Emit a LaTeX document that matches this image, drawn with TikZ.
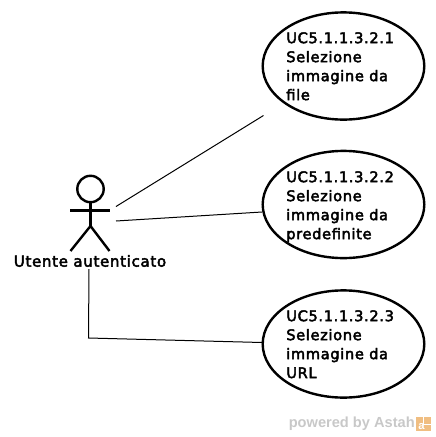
\documentclass[tikz,border=0pt]{standalone}
\usepackage{fontspec}
\setmainfont[FakeBold=3, LetterSpace=4.4]{DejaVu Sans}
\newfontfamily\astahfont{Liberation Sans}[Scale=1]
\usetikzlibrary{shapes.geometric}
\definecolor{astahgrey}{RGB}{200,200,200}
\definecolor{astahorange}{RGB}{240,190,130}
\tikzset{
	usecase/.style={draw, ellipse, line width=0.6mm, minimum width=40.4mm, minimum height=26.8mm, inner sep=0pt},
	uctext/.style={anchor=north west, align=left, inner sep=0pt, font=\fontsize{10.4pt}{13.5pt}\selectfont},
	actorline/.style={line width=0.6mm},
	assoc/.style={line width=0.25mm}
}
\begin{document}
\begin{tikzpicture}[x=0.25mm, y=-0.25mm]
	\useasboundingbox (0, 0) rectangle (436, 437);
	
	%%%%% USE CASES %%%%%
	\node[usecase] (uc1) at (343.5, 66) {};
	\node[uctext] (uc1text) at (286, 32) {UC5.1.1.3.2.1\\Selezione\\immagine da\\file};
	
	\node[usecase] (uc2) at (343.5, 204.5) {};
	\node[uctext] (uc2text) at (286, 171) {UC5.1.1.3.2.2\\Selezione\\immagine da\\predefinite};
	
	\node[usecase] (uc3) at (343.5, 344) {};
	\node[uctext] (uc3text) at (286, 310) {UC5.1.1.3.2.3\\Selezione\\immagine da\\URL};
	
	%%%%% ACTOR %%%%%
	\node[circle, draw, line width=0.6mm, minimum size=6.6mm, inner sep=0pt] (head) at (90.5, 189) {};
	\coordinate (hip) at (90.5, 226);
	\coordinate (armL) at (70, 210.5);
	\coordinate (armR) at (110, 210.5);
	\coordinate (footL) at (70.5, 251);
	\coordinate (footR) at (109.5, 251);
	\draw[actorline] (head.south) -- (hip);
	\draw[actorline] (armL) -- (armR);
	\draw[actorline] (footL) -- (hip) -- (footR);
	\node[font=\fontsize{10.7pt}{12pt}\selectfont, inner sep=0pt] (actor) at (90, 261) {Utente autenticato};
	
	%%%%% ASSOCIATIONS %%%%%
	\coordinate (a1) at (116, 206.5);
	\coordinate (b1) at (263.5, 115.5);
	\coordinate (a2) at (116, 221);
	\coordinate (b2) at (262, 212);
	\coordinate (a3) at (89, 269);
	\coordinate (c3) at (88.5, 338);
	\coordinate (b3) at (262, 342.5);
	\draw[assoc] (a1) -- (b1);
	\draw[assoc] (a2) -- (b2);
	\draw[assoc] (a3) -- (c3) -- (b3);
	
	%%%%% LOGO %%%%%
	\node[font=\fontsize{10.4pt}{12pt}\astahfont\bfseries, text=astahgrey, anchor=east, inner sep=0pt] (powered) at (415, 424) {powered by Astah};
	\node[fill=astahorange, minimum size=3.7mm, inner sep=0pt] (logo) at (423.5, 424) {};
	\node[text=white, inner sep=0pt, font=\fontsize{8pt}{8pt}\astahfont\bfseries] (logoa) at (421.5, 426.5) {a};
	\draw[white, line width=0.2mm] (logo.north) -- (logo.center) -- (logo.east);
\end{tikzpicture}
\end{document}
